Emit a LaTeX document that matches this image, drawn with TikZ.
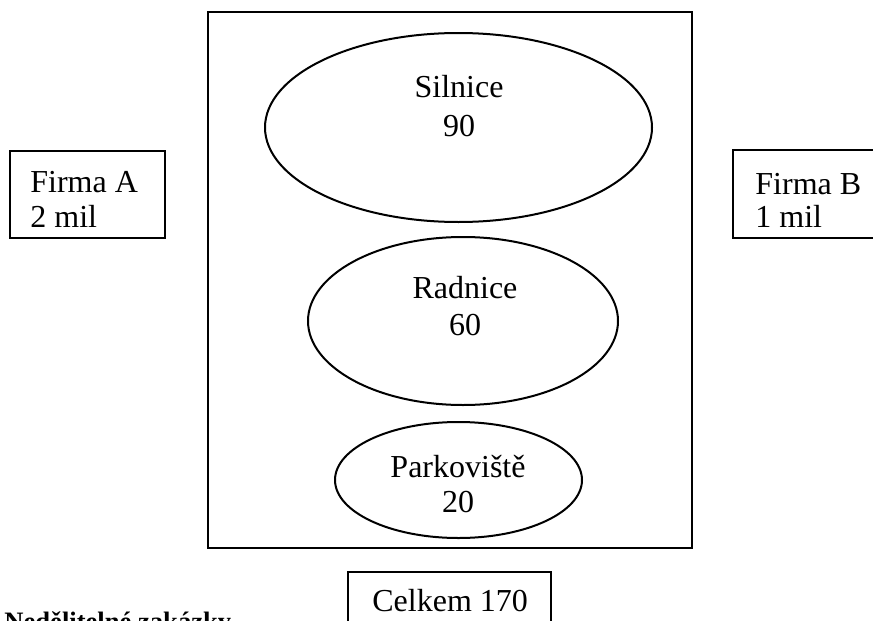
\documentclass[tikz,border=0pt]{standalone}
\usepackage{fontspec}
\setmainfont{Liberation Serif}
\usetikzlibrary{shapes.geometric}

\begin{document}
\begin{tikzpicture}[x=0.5pt,y=-0.5pt,
    box/.style={draw,line width=1pt,inner sep=0pt},
    oval/.style={draw,ellipse,line width=1pt,inner sep=0pt},
    txt/.style={inner sep=0pt,anchor=base,font=\fontsize{16}{18}\selectfont},
    ltxt/.style={txt,anchor=base west}]
    \useasboundingbox (0,0) rectangle (873,621);
    \clip (0,0) rectangle (873,621);
    % frame and the three parts
    \node[box,minimum width=242pt,minimum height=268pt] (frame) at (450,280) {};
    \node[oval,minimum width=193.5pt,minimum height=94.5pt] (silnice) at (458.5,127.5) {};
    \node[oval,minimum width=155pt,minimum height=84pt] (radnice) at (463,321) {};
    \node[oval,minimum width=123.5pt,minimum height=58pt] (parkoviste) at (458.5,480) {};
    \node[txt] (silniceA) at (459,97) {Silnice};
    \node[txt] (silniceB) at (459,136) {90};
    \node[txt] (radniceA) at (465,298) {Radnice};
    \node[txt] (radniceB) at (465,335) {60};
    \node[txt] (parkovisteA) at (458,477) {Parkoviště};
    \node[txt] (parkovisteB) at (458,512) {20};
    % firms
    \node[box,minimum width=77.5pt,minimum height=43.5pt] (firmaA) at (87.5,194.5) {};
    \node[ltxt] (firmaAa) at (30,192) {Firma A};
    \node[ltxt] (firmaAb) at (30,227) {2 mil};
    \node[box,minimum width=73.5pt,minimum height=44pt] (firmaB) at (806.5,194) {};
    \node[ltxt] (firmaBa) at (755,194) {Firma B};
    \node[ltxt] (firmaBb) at (755,227) {1 mil};
    % total
    \node[box,minimum width=101.5pt,minimum height=39pt] (celkem) at (449.5,611) {};
    \node[ltxt] (celkemT) at (372,611) {Celkem 170};
    \node[ltxt,font=\fontsize{13.3}{15}\selectfont\bfseries] (zakazky) at (4,630) {Nedělitelné zakázky};
\end{tikzpicture}
\end{document}
